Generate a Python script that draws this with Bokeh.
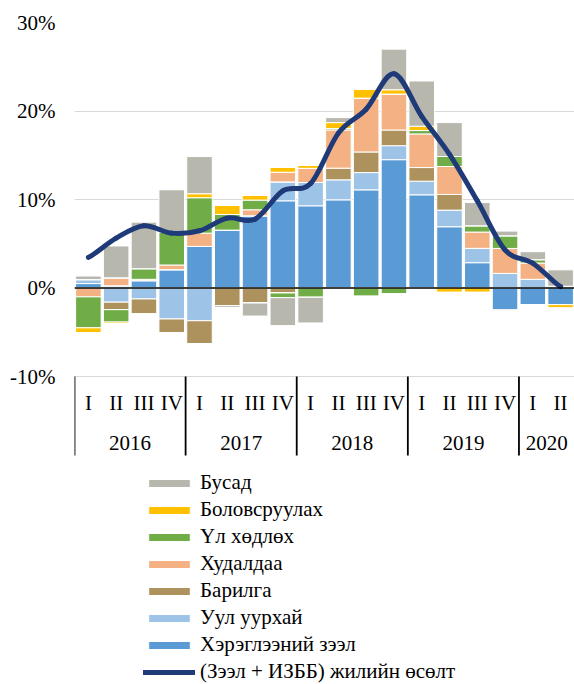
from bokeh.plotting import figure
from bokeh.models import (ColumnDataSource, FactorRange, Range1d, FixedTicker,
                          PrintfTickFormatter, Span, Legend, LegendItem)
from bokeh.core.properties import value
from bokeh.embed import file_html
from bokeh.resources import INLINE

# ---------------- data (percent) ----------------
years = ["2016", "2017", "2018", "2019", "2020"]
quarter_names = ["I", "II", "III", "IV"]
quarters_in_year = [4, 4, 4, 4, 2]
y_ticks = [-10, 0, 10, 20, 30]

consumer      = [0.50, 0.25, 0.83, 2.07, 4.70, 6.54, 8.16, 9.85, 9.29, 9.96, 11.09, 14.50, 10.53, 6.92, 2.86, -2.52, -1.88, -1.88]
mining        = [0.45, -1.60, -1.24, -3.50, -3.70, 0.00, 0.00, 2.14, 2.63, 2.26, 1.95, 1.58, 1.54, 1.88, 1.62, 1.65, 0.98, 0.00]
construction  = [0.00, -0.85, -1.70, -1.60, -2.60, -2.00, -1.70, -0.56, 0.00, 1.32, 2.33, 1.77, 1.54, 1.77, 0.00, 0.00, 0.00, 0.00]
trade         = [-1.00, 0.90, 0.15, 0.53, 1.50, 0.00, 0.68, 1.09, 1.60, 4.32, 6.09, 4.06, 3.80, 3.16, 1.84, 2.82, 1.84, 0.20]
real_estate   = [-3.50, -1.40, 1.20, 3.70, 4.00, 1.77, 1.09, -0.53, -1.05, 0.15, -0.94, -0.68, 0.38, 1.13, 0.71, 1.43, 0.38, 0.00]
manufacturing = [-0.55, -0.20, -0.10, 0.00, 0.45, 1.05, 0.53, 0.56, 0.34, 0.68, 1.00, 0.49, 0.49, -0.49, -0.49, -0.11, 0.00, -0.38]
other         = [0.40, 3.60, 5.26, 4.80, 4.20, -0.20, -1.47, -3.16, -2.90, 0.56, 0.00, 4.59, 5.11, 3.83, 2.63, 0.53, 0.90, 1.85]
growth        = [3.46, 5.64, 7.03, 6.20, 6.47, 7.90, 7.78, 10.98, 11.80, 17.50, 20.20, 24.20, 19.40, 15.10, 9.85, 4.30, 2.80, 0.15]

series_names = ["Хэрэглээний зээл", "Уул уурхай", "Барилга", "Худалдаа",
                "Үл хөдлөх", "Боловсруулах", "Бусад"]
line_name = "(Зээл + ИЗББ) жилийн өсөлт"
series_values = [consumer, mining, construction, trade, real_estate, manufacturing, other]
series_colors = ["#5B9BD5", "#9DC3E6", "#AD925E", "#F4B183", "#70AD47", "#FFC000", "#B8B7AD"]
line_color = "#1F3A78"

# ---------------- layout constants ----------------
FONT = "Liberation Serif"
FS = "21px"
W, H = 574, 684
LEFT, TOP = 74, 22
frame_h = H - TOP
px_per_pct = 354 / 40.0
y_top = 30
y_bottom = y_top - frame_h / px_per_pct

factors = [(yr, q) for yr, n in zip(years, quarters_in_year) for q in quarter_names[:n]]
q_labels = [f[1] for f in factors]

data = {"x": factors}
pos_keys, neg_keys = [], []
for i, vals in enumerate(series_values):
    data[f"pos{i}"] = [max(v, 0) for v in vals]
    data[f"neg{i}"] = [min(v, 0) for v in vals]
    pos_keys.append(f"pos{i}")
    neg_keys.append(f"neg{i}")
src = ColumnDataSource(data)

p = figure(width=W, height=H, output_backend="svg", toolbar_location=None,
           x_range=FactorRange(factors=factors, range_padding=0, factor_padding=0,
                               group_padding=0, subgroup_padding=0),
           y_range=Range1d(y_bottom, y_top),
           min_border_left=LEFT, min_border_right=0, min_border_top=TOP, min_border_bottom=0)
p.outline_line_color = None
p.xaxis.visible = False
p.xgrid.visible = False
p.ygrid.ticker = FixedTicker(ticks=y_ticks)
p.ygrid.grid_line_color = "#D9D9D9"
p.ygrid.grid_line_width = 1

ax = p.yaxis[0]
ax.ticker = FixedTicker(ticks=y_ticks)
ax.formatter = PrintfTickFormatter(format="%d%%")
ax.axis_line_color = None
ax.major_tick_line_color = None
ax.minor_tick_line_color = None
ax.major_tick_out = 0
ax.major_tick_in = 0
ax.major_label_standoff = 19
ax.major_label_text_font = FONT
ax.major_label_text_font_size = FS
ax.major_label_text_color = "black"

BW = 0.92
pos_r = p.vbar_stack(pos_keys, x="x", width=BW, source=src,
                     fill_color=series_colors, line_color="white", line_width=1)
neg_r = p.vbar_stack(neg_keys, x="x", width=BW, source=src,
                     fill_color=series_colors, line_color="white", line_width=1)

p.add_layout(Span(location=0, dimension="width", line_color="black", line_width=1.5))

# smoothed line (Bezier segments through the data points)
n = len(growth)
bx0, by0, bx1, by1, cx0, cy0, cx1, cy1 = [], [], [], [], [], [], [], []
for i in range(n - 1):
    yp = growth[i - 1] if i > 0 else growth[i]
    yn = growth[i + 2] if i + 2 < n else growth[i + 1]
    o0 = 1 / 3 if i > 0 else 1 / 6
    o1 = 1 / 3 if i + 2 < n else 1 / 6
    bx0.append(factors[i]); by0.append(growth[i])
    bx1.append(factors[i + 1]); by1.append(growth[i + 1])
    cx0.append(factors[i] + (o0,)); cy0.append(growth[i] + (growth[i + 1] - yp) * o0 / 2)
    cx1.append(factors[i + 1] + (-o1,)); cy1.append(growth[i + 1] - (yn - growth[i]) * o1 / 2)
bsrc = ColumnDataSource(dict(x0=bx0, y0=by0, x1=bx1, y1=by1, cx0=cx0, cy0=cy0, cx1=cx1, cy1=cy1))
line_r = p.bezier(x0="x0", y0="y0", x1="x1", y1="y1", cx0="cx0", cy0="cy0", cx1="cx1", cy1="cy1",
                  source=bsrc, line_color=line_color, line_width=5, line_cap="round")

# category axis labels + separators
qsrc = ColumnDataSource(dict(x=factors, t=q_labels))
p.text(x="x", y=-10, text="t", source=qsrc,
       text_align="center", text_baseline="middle", y_offset=26,
       text_font=value(FONT), text_font_size=FS, text_color="black")
ysrc = ColumnDataSource(dict(x=years, t=years))
p.text(x="x", y=-10, text="t", source=ysrc, text_align="center", text_baseline="middle",
       y_offset=66, text_font=value(FONT), text_font_size=FS, text_color="black")
sep_len = 79 / px_per_pct
ssrc = ColumnDataSource(dict(x=[(yr, "I", -0.5) for yr in years]))
p.segment(x0="x", y0=-10, x1="x", y1=-10 - sep_len, source=ssrc,
          line_color="black", line_width=1.8)

# legend
items = [LegendItem(label=series_names[i], renderers=[pos_r[i]]) for i in reversed(range(len(series_names)))]
items.append(LegendItem(label=line_name, renderers=[line_r]))
legend = Legend(items=items, location=(69, 0), orientation="vertical",
                label_text_font=FONT, label_text_font_size=FS, label_text_color="black",
                glyph_width=52, glyph_height=10, label_height=23, label_standoff=5,
                spacing=2, padding=0, margin=0, border_line_color=None, background_fill_alpha=0)
p.add_layout(legend)

open("out.html", "w").write(file_html(p, INLINE))
